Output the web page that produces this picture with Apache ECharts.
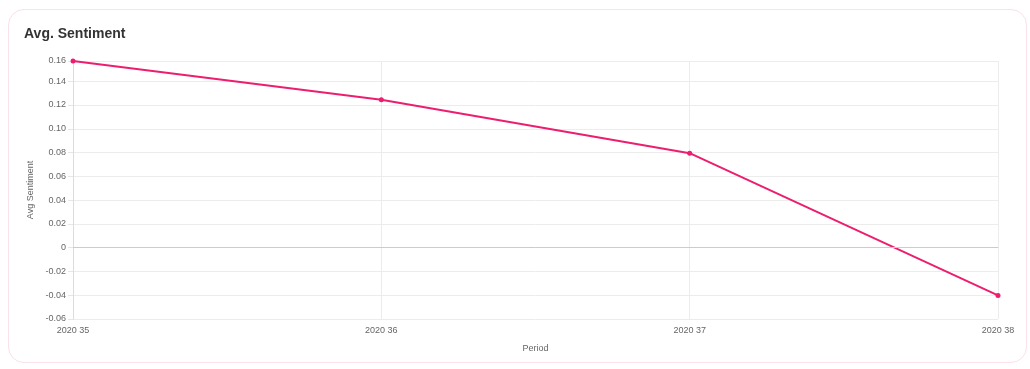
<!DOCTYPE html>
<html><head><meta charset="utf-8">
<script src="https://cdn.jsdelivr.net/npm/echarts@6/dist/echarts.min.js"></script>
<style>
html,body{margin:0;padding:0;background:#fff;}
#card{position:absolute;left:8px;top:9px;width:1019px;height:354px;border:1px solid #fbe1ea;border-radius:16px;box-sizing:border-box;}
#chart{position:absolute;left:0;top:0;width:1030px;height:369px;}
</style></head>
<body>
<div id="card"></div>
<div id="chart"></div>
<script>
const categories = ['2020 35', '2020 36', '2020 37', '2020 38'];
const sentiment = [0.157, 0.1245, 0.0795, -0.0402];
const chartTitle = 'Avg. Sentiment';
const yName = 'Avg Sentiment';
const xName = 'Period';

const chart = echarts.init(document.getElementById('chart'));
chart.setOption({
  animation: false,
  title: {
    text: chartTitle, left: 24, top: 27, padding: 0,
    textStyle: {fontFamily: 'Liberation Sans, Arial', fontSize: 14, fontWeight: 'bold', color: '#333'}
  },
  grid: {left: 73, right: 32, top: 61, bottom: 50},
  xAxis: {
    type: 'category', data: categories, boundaryGap: false,
    name: xName, nameLocation: 'middle', nameGap: 25,
    nameTextStyle: {fontFamily: 'Liberation Sans, Arial', fontSize: 9, color: '#666'},
    axisLine: {show: true, lineStyle: {color: '#dcdcdc'}},
    axisTick: {show: false},
    axisLabel: {fontFamily: 'Liberation Sans, Arial', fontSize: 9, color: '#666', margin: 7},
    splitLine: {show: true, lineStyle: {color: '#ececec'}}
  },
  yAxis: {
    type: 'value', min: -0.06, max: 0.157, interval: 0.02,
    name: yName, nameLocation: 'middle', nameGap: 37, nameRotate: 90,
    nameTextStyle: {fontFamily: 'Liberation Sans, Arial', fontSize: 9, color: '#666'},
    axisLine: {show: true, lineStyle: {color: '#dcdcdc'}},
    axisTick: {show: true, length: 5, lineStyle: {color: '#e6e6e6'}},
    axisLabel: {
      fontFamily: 'Liberation Sans, Arial', fontSize: 9, color: '#666', margin: 7,
      formatter: v => Math.abs(v) < 1e-9 ? '0' : v.toFixed(2)
    },
    splitLine: {show: true, lineStyle: {color: '#ececec'}}
  },
  series: [{
    type: 'line', data: sentiment,
    symbol: 'circle', symbolSize: 5,
    itemStyle: {color: '#ec1e6f'},
    lineStyle: {color: '#ec1e6f', width: 2},
    markLine: {
      silent: true, symbol: 'none', label: {show: false},
      lineStyle: {color: '#cccccc', type: 'solid', width: 1},
      data: [{yAxis: 0}]
    }
  }]
});
</script>
</body></html>
